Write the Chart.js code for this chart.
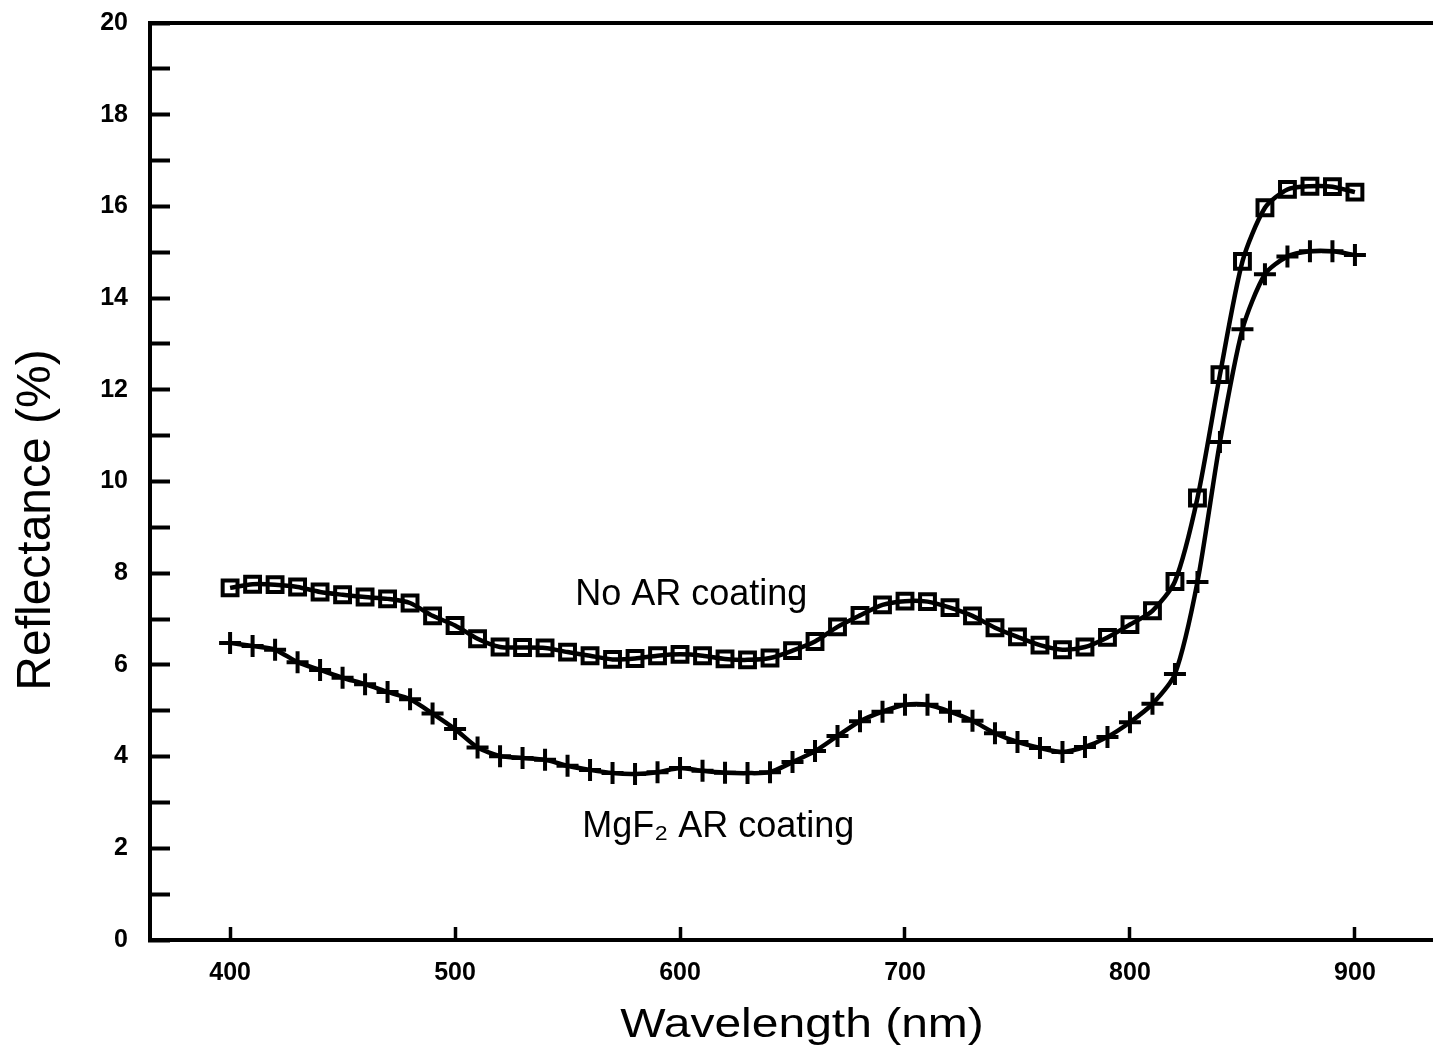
<!DOCTYPE html>
<html>
<head>
<meta charset="utf-8">
<script src="https://cdn.jsdelivr.net/npm/chart.js@4/dist/chart.umd.min.js"></script>
<style>
  html, body { margin: 0; padding: 0; background: #fff; overflow: hidden; }
  #wrap { width: 1433px; height: 1059px; overflow: hidden; }
  canvas { display: block; }
</style>
</head>
<body>
<div id="wrap"><canvas id="c" width="1433" height="1059"></canvas></div>
<script>
const wavelengths = [400,410,420,430,440,450,460,470,480,490,
                     500,510,520,530,540,550,560,570,580,590,
                     600,610,620,630,640,650,660,670,680,690,
                     700,710,720,730,740,750,760,770,780,790,
                     800,810,820,830,840,850,860,870,880,890,
                     900];
const noARCoating = [7.68,7.76,7.75,7.70,7.59,7.53,7.48,7.44,7.35,7.07,
                     6.86,6.57,6.39,6.38,6.37,6.28,6.20,6.12,6.14,6.20,
                     6.23,6.20,6.13,6.11,6.15,6.31,6.51,6.83,7.08,7.31,
                     7.39,7.38,7.25,7.07,6.81,6.61,6.43,6.33,6.39,6.60,
                     6.88,7.18,7.82,9.64,12.33,14.80,15.97,16.37,16.44,16.43,
                     16.31];
const mgf2Coating = [6.48,6.41,6.33,6.06,5.89,5.72,5.58,5.41,5.25,4.94,
                     4.60,4.20,4.01,3.97,3.93,3.80,3.71,3.64,3.62,3.66,
                     3.75,3.69,3.65,3.64,3.66,3.88,4.12,4.45,4.77,4.98,
                     5.13,5.13,4.98,4.78,4.51,4.32,4.19,4.10,4.21,4.43,
                     4.75,5.15,5.80,7.81,10.86,13.32,14.52,14.91,15.02,15.02,
                     14.94];
const xTickValues = [400,500,600,700,800,900];
const seriesLabels = ['No AR coating', 'MgF\u2082 AR coating'];
const xTitle = 'Wavelength (nm)';
const yTitle = 'Reflectance (%)';
const curveLabels = [
  { text: 'No AR coating', x: 605, y: 7.31 },
  { text: 'MgF\u2082 AR coating', x: 617, y: 2.25 }
];

const FONT = '"Liberation Sans", Arial, Helvetica, sans-serif';
const toPoints = (ys) => wavelengths.map((w, i) => ({ x: w, y: ys[i] }));

const frameAndText = {
  id: 'frameAndText',
  afterDraw(chart) {
    const { ctx, chartArea } = chart;
    const xs = chart.scales.x, ys = chart.scales.y;
    ctx.save();
    // top frame line
    ctx.strokeStyle = '#000';
    ctx.lineWidth = 4;
    ctx.beginPath();
    ctx.moveTo(chartArea.left - 2, chartArea.top);
    ctx.lineTo(chartArea.right, chartArea.top);
    ctx.stroke();

    // curve labels
    ctx.fillStyle = '#000';
    ctx.font = '36px ' + FONT;
    ctx.textAlign = 'center';
    ctx.textBaseline = 'alphabetic';
    curveLabels.forEach(l => {
      ctx.fillText(l.text, xs.getPixelForValue(l.x), ys.getPixelForValue(l.y));
    });

    // x axis title (slightly wide lettering as in the original)
    ctx.save();
    ctx.font = '40px ' + FONT;
    ctx.translate(802, 1037);
    ctx.scale(1.2, 1);
    ctx.fillText(xTitle, 0, 0);
    ctx.restore();

    // y axis title
    ctx.save();
    ctx.font = '48px ' + FONT;
    ctx.translate(50, 520);
    ctx.rotate(-Math.PI / 2);
    ctx.fillText(yTitle, 0, 0);
    ctx.restore();

    ctx.restore();
  }
};

new Chart(document.getElementById('c'), {
  type: 'line',
  data: {
    datasets: [
      {
        label: seriesLabels[0],
        data: toPoints(noARCoating),
        borderColor: '#000',
        borderWidth: 4.5,
        tension: 0.25,
        pointStyle: 'rect',
        pointRadius: 10.5,
        pointBorderWidth: 4,
        pointBorderColor: '#000',
        pointBackgroundColor: 'rgba(255,255,255,0)'
      },
      {
        label: seriesLabels[1],
        data: toPoints(mgf2Coating),
        borderColor: '#000',
        borderWidth: 4.5,
        tension: 0.25,
        pointStyle: 'cross',
        pointRadius: 11,
        pointBorderWidth: 4,
        pointBorderColor: '#000',
        pointBackgroundColor: '#000'
      }
    ]
  },
  options: {
    responsive: false,
    animation: false,
    events: [],
    layout: { autoPadding: false, padding: { top: 23, right: 0, bottom: 0, left: 0 } },
    plugins: { legend: { display: false }, tooltip: { enabled: false } },
    scales: {
      x: {
        type: 'linear',
        min: 364.4,
        max: 934.7,
        afterBuildTicks: (s) => { s.ticks = xTickValues.map(v => ({ value: v })); },
        afterFit: (s) => { s.height = 119; s.paddingLeft = 0; s.paddingRight = 0; },
        border: { display: true, color: '#000', width: 4 },
        grid: { drawOnChartArea: false, drawTicks: true, tickLength: -13, tickWidth: 3.5, tickColor: '#000', color: '#000' },
        ticks: {
          color: '#000',
          padding: 31,
          maxRotation: 0,
          font: { family: FONT, size: 25, weight: 'bold' }
        },
        title: { display: false }
      },
      y: {
        min: 0,
        max: 20,
        afterFit: (s) => { s.width = 150; s.paddingTop = 0; s.paddingBottom = 0; },
        border: { display: true, color: '#000', width: 4 },
        grid: { drawOnChartArea: false, drawTicks: true, tickLength: -20, tickWidth: 4, tickColor: '#000', color: '#000' },
        ticks: {
          stepSize: 1,
          autoSkip: false,
          color: '#000',
          padding: 42,
          callback: (v) => (v % 2 === 0 ? String(v) : ''),
          font: { family: FONT, size: 25, weight: 'bold' }
        },
        title: { display: false }
      }
    }
  },
  plugins: [frameAndText]
});
</script>
</body>
</html>
